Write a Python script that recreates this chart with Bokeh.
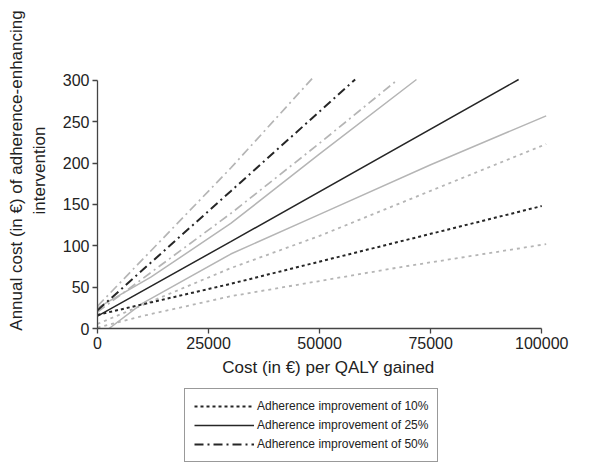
from bokeh.plotting import figure
from bokeh.models import Range1d, FixedTicker, Legend, LegendItem
from bokeh.layouts import column
from bokeh.embed import file_html
from bokeh.resources import INLINE

# ---- data ----
x_ticks = [0, 25000, 50000, 75000, 100000]
x_tick_labels = ["0", "25000", "50000", "75000", "100000"]
y_ticks = [0, 50, 100, 150, 200, 250, 300]
y_tick_labels = ["0", "50", "100", "150", "200", "250", "300"]

legend_labels = ["Adherence improvement of 10%",
                 "Adherence improvement of 25%",
                 "Adherence improvement of 50%"]

# 10% adherence improvement (dotted)
d10_x = [0, 30000, 100000]
d10_y = [16.5, 54, 148]
d10_hi_x = [0, 30000, 50000, 101000]
d10_hi_y = [5.5, 73, 112, 223]
d10_lo_x = [0, 10000, 30000, 68000, 101000]
d10_lo_y = [1, 15, 39, 74, 102]

# 25% adherence improvement (solid)
d25_x = [0, 30000, 94800]
d25_y = [15, 105, 301]
d25_hi_x = [0, 12000, 30000, 50000, 71800]
d25_hi_y = [25, 62, 127, 211, 301]
d25_lo_x = [2600, 10000, 30000, 50000, 75000, 101000]
d25_lo_y = [0, 30, 90, 138, 198, 257]

# 50% adherence improvement (dash-dot)
d50_x = [0, 30000, 58000]
d50_y = [22, 166, 301]
d50_hi_x = [0, 30000, 48300]
d50_hi_y = [27, 194, 302]
d50_lo_x = [0, 30000, 50000, 67400]
d50_lo_y = [20, 139, 224, 300]

# ---- styles ----
DARK = "#262626"
GRAY = "#b5b5b5"
FONT = "Liberation Sans"
DOT = "3 3"
GDOT = "3 4"
DASHDOT = "9 4 2 4"

p = figure(frame_width=462, frame_height=316,
           x_range=Range1d(0, 104000), y_range=Range1d(0, 382),
           min_border_left=97, min_border_right=31,
           min_border_top=12, min_border_bottom=60,
           output_backend="svg", toolbar_location=None)

# gray (bound) lines first
p.line(d10_hi_x, d10_hi_y, line_color=GRAY, line_width=1.8, line_dash=GDOT)
p.line(d10_lo_x, d10_lo_y, line_color=GRAY, line_width=1.8, line_dash=GDOT)
p.line(d25_hi_x, d25_hi_y, line_color=GRAY, line_width=1.5)
p.line(d25_lo_x, d25_lo_y, line_color=GRAY, line_width=1.5)
p.line(d50_hi_x, d50_hi_y, line_color=GRAY, line_width=1.7, line_dash=DASHDOT)
p.line(d50_lo_x, d50_lo_y, line_color=GRAY, line_width=1.7, line_dash=DASHDOT)

# dark (central) lines
p.line(d10_x, d10_y, line_color=DARK, line_width=2, line_dash=DOT)
p.line(d25_x, d25_y, line_color=DARK, line_width=1.5)
p.line(d50_x, d50_y, line_color=DARK, line_width=2, line_dash=DASHDOT)

p.grid.grid_line_color = None
p.outline_line_color = None

for ax in (p.xaxis[0], p.yaxis[0]):
    ax.axis_line_color = "#444444"
    ax.axis_line_width = 1.3
    ax.major_tick_line_color = "#444444"
    ax.major_tick_line_width = 1.3
    ax.major_tick_out = 5
    ax.major_tick_in = 0
    ax.minor_tick_line_color = None
    ax.major_label_text_font = FONT
    ax.major_label_text_font_size = "16px"
    ax.major_label_text_color = "#222222"
    ax.axis_label_text_font = FONT
    ax.axis_label_text_font_size = "17px"
    ax.axis_label_text_font_style = "normal"
    ax.axis_label_text_color = "#222222"

p.xaxis.bounds = (0, 100000)
p.xaxis.ticker = FixedTicker(ticks=x_ticks)
p.xaxis.major_label_overrides = dict(zip(x_ticks, x_tick_labels))
p.xaxis.major_label_standoff = 3
p.xaxis.axis_label = "Cost (in €) per QALY gained"
p.xaxis.axis_label_standoff = 6

p.yaxis.bounds = (0, 300)
p.yaxis.ticker = FixedTicker(ticks=y_ticks)
p.yaxis.major_label_overrides = dict(zip(y_ticks, y_tick_labels))
p.yaxis.major_label_standoff = 3
p.yaxis.axis_label = "Annual cost (in €) of adherence-enhancing\nintervention"
p.yaxis.axis_label_standoff = 11

# ---- legend strip below the chart (its own small figure) ----
p2 = figure(width=590, height=75, x_range=Range1d(0, 1), y_range=Range1d(0, 1),
            min_border=0, output_backend="svg", toolbar_location=None)
p2.axis.visible = False
p2.grid.grid_line_color = None
p2.outline_line_color = None
# legend proxies: same series, lying outside this strip's ranges (not visible)
l10 = p2.line(d10_x, d10_y, line_color=DARK, line_width=2, line_dash=DOT)
l25 = p2.line(d25_x, d25_y, line_color=DARK, line_width=1.5)
l50 = p2.line(d50_x, d50_y, line_color=DARK, line_width=2, line_dash=DASHDOT)

legend = Legend(items=[LegendItem(label=legend_labels[0], renderers=[l10]),
                       LegendItem(label=legend_labels[1], renderers=[l25]),
                       LegendItem(label=legend_labels[2], renderers=[l50])],
                location=(87, 1))
legend.border_line_color = "#333333"
legend.border_line_width = 1
legend.label_text_font = "Arial"
legend.label_text_font_size = "12px"
legend.label_text_color = "#222222"
legend.glyph_width = 60
legend.glyph_height = 16
legend.label_height = 16
legend.spacing = 3
legend.padding = 9
legend.label_standoff = 3
legend.margin = 0
p2.add_layout(legend, "center")

layout = column(p, p2, spacing=0)
open("out.html", "w").write(file_html(layout, INLINE))
